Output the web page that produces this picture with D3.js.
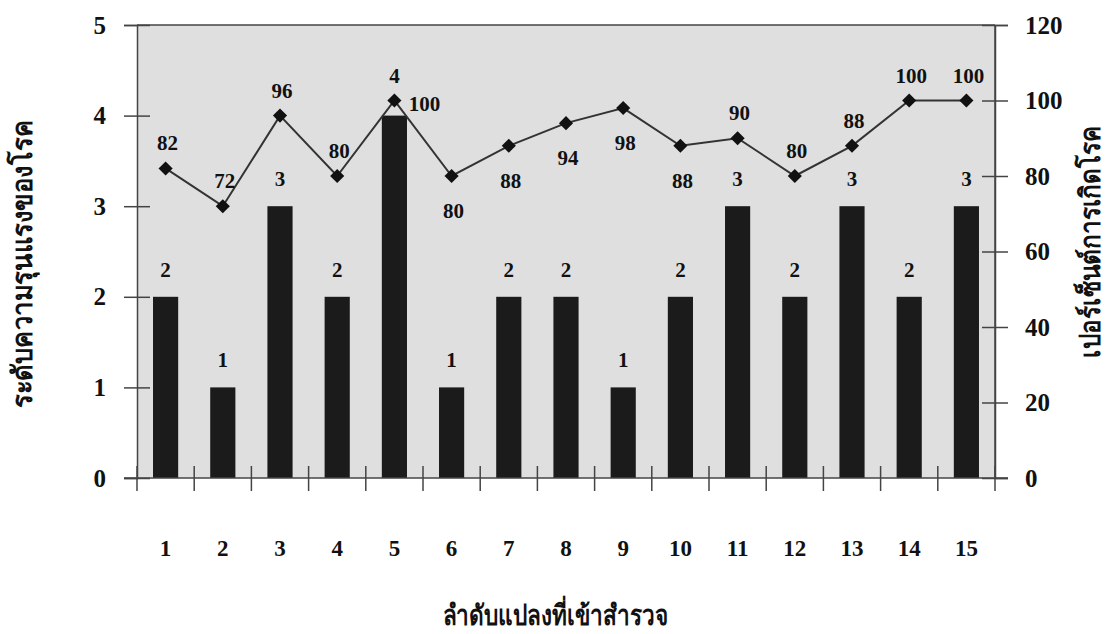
<!DOCTYPE html>
<html><head><meta charset="utf-8">
<script src="https://cdn.jsdelivr.net/npm/d3@7"></script>
<style>
html,body{margin:0;padding:0;background:#fff;}
text{font-family:"Liberation Serif","Times New Roman",serif;font-weight:bold;fill:#111;}
.thai{font-family:"Liberation Serif","DejaVu Serif","Noto Sans",sans-serif;font-weight:bold;}
</style></head>
<body>
<svg id="c" width="1107" height="634"></svg>
<script>
const categories = ["1","2","3","4","5","6","7","8","9","10","11","12","13","14","15"];
const severity = [2,1,3,2,4,1,2,2,1,2,3,2,3,2,3];
const incidence = [82,72,96,80,100,80,88,94,98,88,90,80,88,100,100];
const leftTicks = [0,1,2,3,4,5];
const rightTicks = [0,20,40,60,80,100,120];
const lineLabelPlacement = ["above","above","above","above","right","below","below","below","below","below","above","above","above","above","above"];
const xTitle = "ลำดับแปลงที่เข้าสำรวจ";
const yLeftTitle = "ระดับความรุนแรงของโรค";
const yRightTitle = "เปอร์เซ็นต์การเกิดโรค";

const svg = d3.select("#c");
const L = 137, R = 995, T = 25, B = 478;

const x = d3.scaleBand().domain(categories).range([L,R]).paddingInner(0.56).paddingOuter(0.28);
const xb = d3.scaleBand().domain(categories).range([L,R]);
const yL = d3.scaleLinear().domain([0,5]).range([B,T]);
const yR = d3.scaleLinear().domain([0,120]).range([B,T]);

// plot background
svg.append("rect").attr("x",L).attr("y",T).attr("width",R-L).attr("height",B-T).attr("fill","#dfdfdf");

// bars
svg.append("g").selectAll("rect").data(categories).join("rect")
  .attr("x",(d)=>x(d)).attr("width",x.bandwidth())
  .attr("y",(d,i)=>yL(severity[i])).attr("height",(d,i)=>yL(0)-yL(severity[i]))
  .attr("fill","#1b1b1b");

// frame lines
const frame = svg.append("g").attr("stroke","#444").attr("stroke-width",1.5);
frame.append("line").attr("x1",L).attr("x2",R).attr("y1",T).attr("y2",T);
frame.append("line").attr("x1",R).attr("x2",R).attr("y1",T).attr("y2",B);

// left axis
const gL = svg.append("g").attr("transform",`translate(${L},0)`)
  .call(d3.axisLeft(yL).tickValues(leftTicks).tickSize(13).tickPadding(18).tickFormat(d3.format("d")));
gL.selectAll(".tick line").attr("x2",13).attr("x1",-13);
// right axis
const gR = svg.append("g").attr("transform",`translate(${R},0)`)
  .call(d3.axisRight(yR).tickValues(rightTicks).tickSize(13).tickPadding(17).tickFormat(d3.format("d")));
gR.selectAll(".tick line").attr("x1",-13).attr("x2",13);
// bottom axis with boundary ticks
const gB = svg.append("g").attr("transform",`translate(0,${B})`)
  .call(d3.axisBottom(x).tickSize(0).tickPadding(62));
gB.selectAll(".tick").each(function(d,i){
  d3.select(this).append("line").attr("x1",-xb.bandwidth()/2).attr("x2",-xb.bandwidth()/2).attr("y1",-12).attr("y2",13);
});
gB.append("line").attr("x1",R).attr("x2",R).attr("y1",-12).attr("y2",13);
gB.append("line").attr("x1",L-13).attr("x2",R+13).attr("y1",0).attr("y2",0);
[gL,gR,gB].forEach(g=>{
  g.select(".domain").attr("stroke","#444").attr("stroke-width",1.5);
  g.selectAll("line").attr("stroke","#444").attr("stroke-width",1.5);
  g.selectAll("text").attr("font-size",25).attr("font-family","'Liberation Serif',serif").attr("font-weight","bold").attr("fill","#111");
});
gB.selectAll("text").attr("font-size",23);
gB.select(".domain").remove();

// line
const cx = (d)=>x(d)+x.bandwidth()/2;
const line = d3.line().x((d,i)=>cx(categories[i])).y((d)=>yR(d));
svg.append("path").datum(incidence).attr("d",line).attr("fill","none").attr("stroke","#333").attr("stroke-width",2);
svg.append("g").selectAll("path").data(incidence).join("path")
  .attr("transform",(d,i)=>`translate(${cx(categories[i])},${yR(d)}) rotate(45)`)
  .attr("d",d3.symbol().type(d3.symbolSquare).size(100))
  .attr("fill","#111");

// line labels
svg.append("g").selectAll("text").data(incidence).join("text")
  .attr("x",(d,i)=>cx(categories[i]) + (lineLabelPlacement[i]==="right"?30:2))
  .attr("y",(d,i)=>{const p=lineLabelPlacement[i]; return yR(d) + (p==="above"?-18:p==="below"?42:10);})
  .attr("text-anchor","middle").attr("font-size",21).text(d=>d);

// bar labels
svg.append("g").selectAll("text").data(severity).join("text")
  .attr("x",(d,i)=>cx(categories[i]))
  .attr("y",(d,i)=> lineLabelPlacement[i]==="right" ? yR(incidence[i]) - 18 : yL(d) - 20)
  .attr("text-anchor","middle").attr("font-size",21).text(d=>d);

// titles
svg.append("text").attr("class","thai").attr("x",555).attr("y",625).attr("text-anchor","middle").attr("font-size",28)
  .attr("textLength",225).attr("lengthAdjust","spacingAndGlyphs").text(xTitle);
svg.append("text").attr("class","thai").attr("transform",`translate(32,264) rotate(-90)`).attr("text-anchor","middle").attr("font-size",28)
  .attr("textLength",288).attr("lengthAdjust","spacingAndGlyphs").text(yLeftTitle);
svg.append("text").attr("class","thai").attr("transform",`translate(1100,242) rotate(-90)`).attr("text-anchor","middle").attr("font-size",28)
  .attr("textLength",232).attr("lengthAdjust","spacingAndGlyphs").text(yRightTitle);
</script>
</body></html>
